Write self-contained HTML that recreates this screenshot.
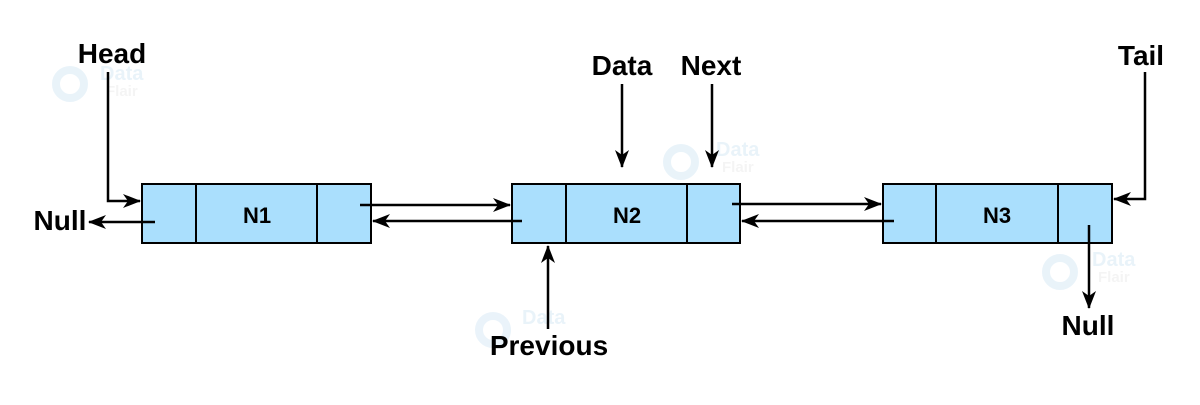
<!DOCTYPE html>
<html><head><meta charset="utf-8"><style>
html,body{margin:0;padding:0;background:#fff;}
svg text{font-family:"Liberation Sans",Arial,sans-serif;font-weight:bold;fill:#000;}
</style></head><body>
<svg width="1200" height="400" viewBox="0 0 1200 400" xmlns="http://www.w3.org/2000/svg">
<defs>
<marker id="b" markerWidth="18" markerHeight="14" refX="17" refY="7" orient="auto" markerUnits="userSpaceOnUse">
<path d="M0,0 L18,7 L0,14 L5,7 Z" fill="#000"/>
</marker>
</defs>
<!-- watermarks -->
<g opacity="0.3" font-size="20">
<circle cx="70" cy="84" r="14" fill="none" stroke="#b8d8ee" stroke-width="8"/>
<text x="100" y="80" style="fill:#b8d8ee">Data</text><text x="106" y="96" style="fill:#ddd" font-size="15">Flair</text>
<circle cx="681" cy="162" r="14" fill="none" stroke="#b8d8ee" stroke-width="8"/>
<text x="716" y="156" style="fill:#b8d8ee">Data</text><text x="722" y="172" style="fill:#ddd" font-size="15">Flair</text>
<circle cx="493" cy="330" r="14" fill="none" stroke="#b8d8ee" stroke-width="8"/>
<text x="522" y="324" style="fill:#b8d8ee">Data</text>
<circle cx="1060" cy="272" r="14" fill="none" stroke="#b8d8ee" stroke-width="8"/>
<text x="1092" y="266" style="fill:#b8d8ee">Data</text><text x="1098" y="282" style="fill:#ddd" font-size="15">Flair</text>
</g>
<g fill="#aadffd" stroke="#000" stroke-width="2">
<rect x="142" y="184" width="229" height="59"/>
<line x1="196" y1="184" x2="196" y2="243"/><line x1="317" y1="184" x2="317" y2="243"/>
<rect x="512" y="184" width="228" height="59"/>
<line x1="566" y1="184" x2="566" y2="243"/><line x1="687" y1="184" x2="687" y2="243"/>
<rect x="883" y="184" width="229" height="59"/>
<line x1="936" y1="184" x2="936" y2="243"/><line x1="1058" y1="184" x2="1058" y2="243"/>
</g>
<g font-size="22" text-anchor="middle">
<text x="257" y="223">N1</text><text x="627" y="223">N2</text><text x="997" y="223">N3</text>
</g>
<g font-size="28">
<text x="112" y="63" text-anchor="middle">Head</text>
<text x="60" y="230" text-anchor="middle">Null</text>
<text x="622" y="75" text-anchor="middle">Data</text>
<text x="711" y="75" text-anchor="middle">Next</text>
<text x="549" y="355" text-anchor="middle">Previous</text>
<text x="1141" y="65" text-anchor="middle">Tail</text>
<text x="1088" y="335" text-anchor="middle">Null</text>
</g>
<g stroke="#000" stroke-width="2.5" fill="none">
<polyline points="108,72 108,201 140,201" marker-end="url(#b)"/>
<line x1="155" y1="222" x2="89" y2="222" marker-end="url(#b)"/>
<line x1="360" y1="205" x2="510" y2="205" marker-end="url(#b)"/>
<line x1="522" y1="221" x2="373" y2="221" marker-end="url(#b)"/>
<line x1="732" y1="204" x2="881" y2="204" marker-end="url(#b)"/>
<line x1="894" y1="221" x2="742" y2="221" marker-end="url(#b)"/>
<line x1="622" y1="84" x2="622" y2="167" marker-end="url(#b)"/>
<line x1="712" y1="84" x2="712" y2="167" marker-end="url(#b)"/>
<line x1="548" y1="329" x2="548" y2="246" marker-end="url(#b)"/>
<polyline points="1145,72 1145,199 1114,199" marker-end="url(#b)"/>
<line x1="1089" y1="225" x2="1089" y2="308" marker-end="url(#b)"/>
</g>
</svg>
</body></html>
